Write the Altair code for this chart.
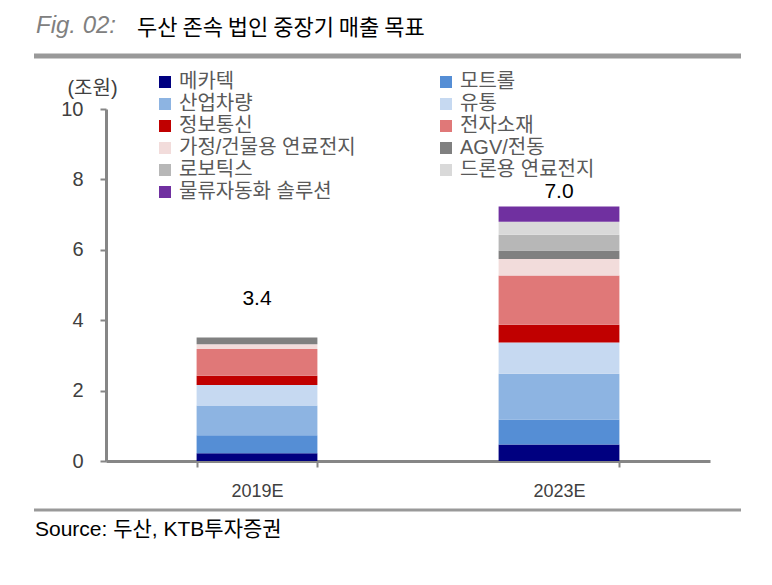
import altair as alt
import pandas as pd

years = ["2019E", "2023E"]
series = ["메카텍", "모트롤", "산업차량", "유통", "정보통신", "전자소재",
          "가정/건물용 연료전지", "AGV/전동", "로보틱스", "드론용 연료전지", "물류자동화 솔루션"]
values_2019 = [0.22, 0.51, 0.85, 0.58, 0.26, 0.76, 0.14, 0.19, 0.0, 0.0, 0.0]
values_2023 = [0.47, 0.71, 1.30, 0.89, 0.50, 1.40, 0.47, 0.24, 0.45, 0.37, 0.43]
colors = ["#000080", "#558ED5", "#8DB4E2", "#C6D9F1", "#C00000", "#E07878",
          "#F2DCDB", "#808080", "#B7B7B7", "#D9D9D9", "#7030A0"]
totals = ["3.4", "7.0"]
total_label_pos = [4.6, 7.63]

rows = []
for yr, vals in zip(years, [values_2019, values_2023]):
    for i, (s, v) in enumerate(zip(series, vals)):
        rows.append({"year": yr, "series": s, "value": v, "order": i})
df = pd.DataFrame(rows)
lab = pd.DataFrame({"year": years, "total": totals, "pos": total_label_pos})

NUM_FONT = "Liberation Sans Narrow, Arial Narrow, Liberation Sans, Arial"
KR_FONT = "Liberation Sans, Noto Sans CJK KR"

x_scale = alt.Scale(paddingInner=0.6, paddingOuter=0.3)
y_scale = alt.Scale(domain=[0, 10], nice=False)

x_enc = alt.X("year:N", sort=years, scale=x_scale,
              axis=alt.Axis(title=None, labelAngle=0, tickBand="extent",
                            domainColor="#868686", domainWidth=3,
                            tickColor="#868686", tickWidth=2, tickSize=6,
                            labelPadding=15, labelFontSize=18, labelFont="Liberation Sans",
                            labelColor="#404040", labelBaseline="top"))

bars = alt.Chart(df).mark_bar(strokeWidth=0).encode(
    x=x_enc,
    y=alt.Y("value:Q", stack="zero", scale=y_scale,
            axis=alt.Axis(values=[0, 2, 4, 6, 8, 10], grid=False,
                          domainColor="#868686", domainWidth=3,
                          tickColor="#868686", tickWidth=2, tickSize=6,
                          labelPadding=17, labelFontSize=20, labelFont=NUM_FONT,
                          labelColor="#404040",
                          title="(조원)", titleAngle=0, titleX=-14, titleY=-21,
                          titleAlign="center", titleBaseline="middle",
                          titleFont=KR_FONT, titleFontSize=20, titleFontWeight="normal",
                          titleColor="#404040")),
    color=alt.Color("series:N", scale=alt.Scale(domain=series, range=colors),
                    legend=alt.Legend(title=None, orient="none", legendX=49, legendY=-37,
                                      direction="horizontal",
                                      columns=2, columnPadding=80, rowPadding=2,
                                      symbolType="square", symbolSize=144,
                                      symbolStrokeWidth=0, symbolOpacity=1,
                                      labelFontSize=20, labelFont=KR_FONT,
                                      labelColor="#595959", labelLimit=300,
                                      labelOffset=4)),
    order=alt.Order("order:Q", sort="ascending"),
)

labels = alt.Chart(lab).mark_text(fontSize=21, font=NUM_FONT, color="#000000",
                                  baseline="middle").encode(
    x=alt.X("year:N", sort=years, scale=x_scale),
    y=alt.Y("pos:Q", scale=y_scale),
    text="total:N",
)

fig = alt.Chart(pd.DataFrame({"t": ["Fig. 02:"]})).mark_text(
    align="left", baseline="alphabetic", font="Liberation Sans", fontStyle="italic",
    fontSize=24, color="#808080").encode(x=alt.value(-70), y=alt.value(-76), text="t:N")

title = alt.Chart(pd.DataFrame({"t": ["두산 존속 법인 중장기 매출 목표"]})).mark_text(
    align="left", baseline="alphabetic", font="Noto Sans CJK KR",
    fontSize=22, color="#000000").encode(x=alt.value(31), y=alt.value(-74), text="t:N")

top_rule = alt.Chart(pd.DataFrame({"a": [0]})).mark_rule(color="#999999", strokeWidth=5).encode(
    x=alt.value(-72), x2=alt.value(635), y=alt.value(-53))

bottom_rule = alt.Chart(pd.DataFrame({"a": [0]})).mark_rule(color="#999999", strokeWidth=3).encode(
    x=alt.value(-72), x2=alt.value(635), y=alt.value(401))

source = alt.Chart(pd.DataFrame({"t": ["Source:  두산, KTB투자증권"]})).mark_text(
    align="left", baseline="alphabetic", font=KR_FONT,
    fontSize=21, color="#000000").encode(x=alt.value(-71), y=alt.value(427), text="t:N")

chart = alt.layer(bars, labels, fig, title, top_rule, bottom_rule, source).properties(
    width=604, height=352, autosize="none",
    padding={"left": 98, "top": 101, "right": 50, "bottom": 100},
).configure_view(stroke=None)

chart.save("out.html", embed_options={"renderer": "svg", "actions": False})
